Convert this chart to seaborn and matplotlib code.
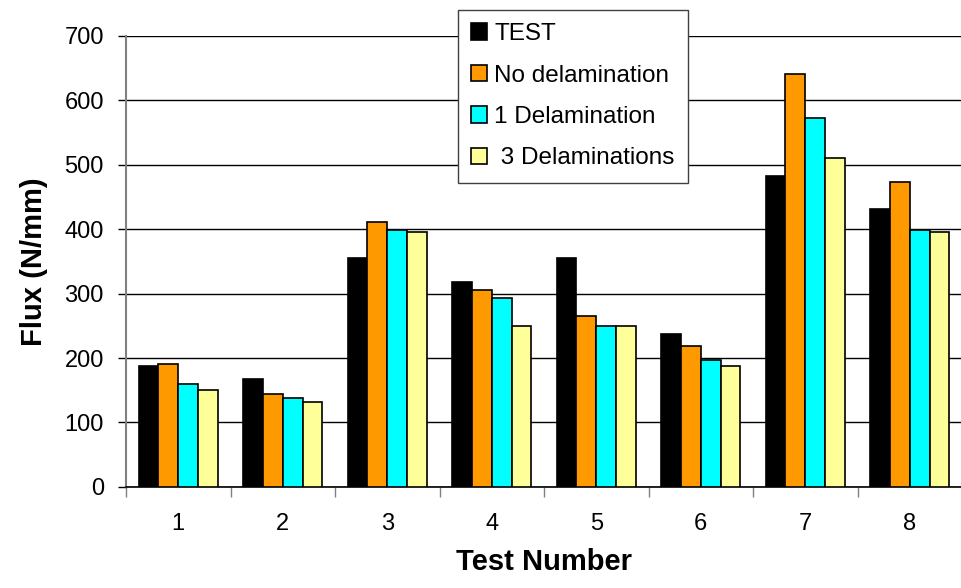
import matplotlib
matplotlib.use('Agg')
import matplotlib.pyplot as plt
import seaborn as sns
import pandas as pd
from matplotlib.ticker import FixedLocator

# Data
tests = ['1', '2', '3', '4', '5', '6', '7', '8']
series = ['TEST', 'No delamination', '1 Delamination', ' 3 Delaminations']
test_vals = [188, 167, 356, 318, 356, 238, 483, 431]
no_delam = [191, 144, 411, 305, 265, 218, 641, 473]
one_delam = [160, 138, 399, 293, 250, 197, 572, 399]
three_delam = [151, 132, 396, 250, 250, 187, 511, 396]
colors = ['#000000', '#FF9900', '#00FFFF', '#FFFF99']

rows = []
for name, vals in zip(series, [test_vals, no_delam, one_delam, three_delam]):
    for t, v in zip(tests, vals):
        rows.append({'Test': t, 'Series': name, 'Flux': v})
df = pd.DataFrame(rows)

sns.set_style('white')
plt.rcParams['font.family'] = ['Liberation Sans', 'DejaVu Sans']
plt.rcParams['text.color'] = 'black'
plt.rcParams['axes.labelcolor'] = 'black'
plt.rcParams['xtick.color'] = 'black'
plt.rcParams['ytick.color'] = 'black'

fig = plt.figure(figsize=(9.62, 5.88), dpi=100)
ax = fig.add_axes([0.131, 0.172, 0.869, 0.767])

sns.barplot(data=df, x='Test', y='Flux', hue='Series', palette=colors,
            order=tests, hue_order=series, width=0.76, gap=0, saturation=1,
            edgecolor='black', linewidth=1.2, ax=ax, zorder=3)

# Axes styling
ax.set_ylim(0, 700)
ax.set_xlim(-0.5, 7.5)
ax.set_yticks(range(0, 701, 100))
ax.yaxis.grid(True, color='black', linewidth=1, zorder=0)
ax.set_axisbelow(True)
for side in ['top', 'right']:
    ax.spines[side].set_visible(False)
ax.spines['left'].set_color('#808080')
ax.spines['left'].set_linewidth(1.5)
ax.spines['bottom'].set_color('black')
ax.spines['bottom'].set_linewidth(1.2)

ax.tick_params(axis='y', which='major', direction='out', length=6, width=1,
               color='black', labelsize=17, pad=10, left=True)
ax.tick_params(axis='x', which='major', length=0, labelsize=17, pad=19)
ax.xaxis.set_minor_locator(FixedLocator([i - 0.5 for i in range(9)]))
ax.tick_params(axis='x', which='minor', direction='out', length=7, width=1,
               color='#808080', bottom=True)

ax.set_xlabel('Test Number', fontsize=21, fontweight='bold', labelpad=9)
ax.set_ylabel('Flux (N/mm)', fontsize=21, fontweight='bold', labelpad=12)

leg = ax.legend(loc='upper left', bbox_to_anchor=(0.397, 1.058), fontsize=17.5,
                frameon=True, fancybox=False, framealpha=1, edgecolor='#404040',
                handlelength=0.65, handleheight=0.65, handletextpad=0.3,
                labelspacing=0.8, borderpad=0.55, borderaxespad=0)
leg.get_frame().set_linewidth(1)

fig.savefig('out.png', dpi=100)
